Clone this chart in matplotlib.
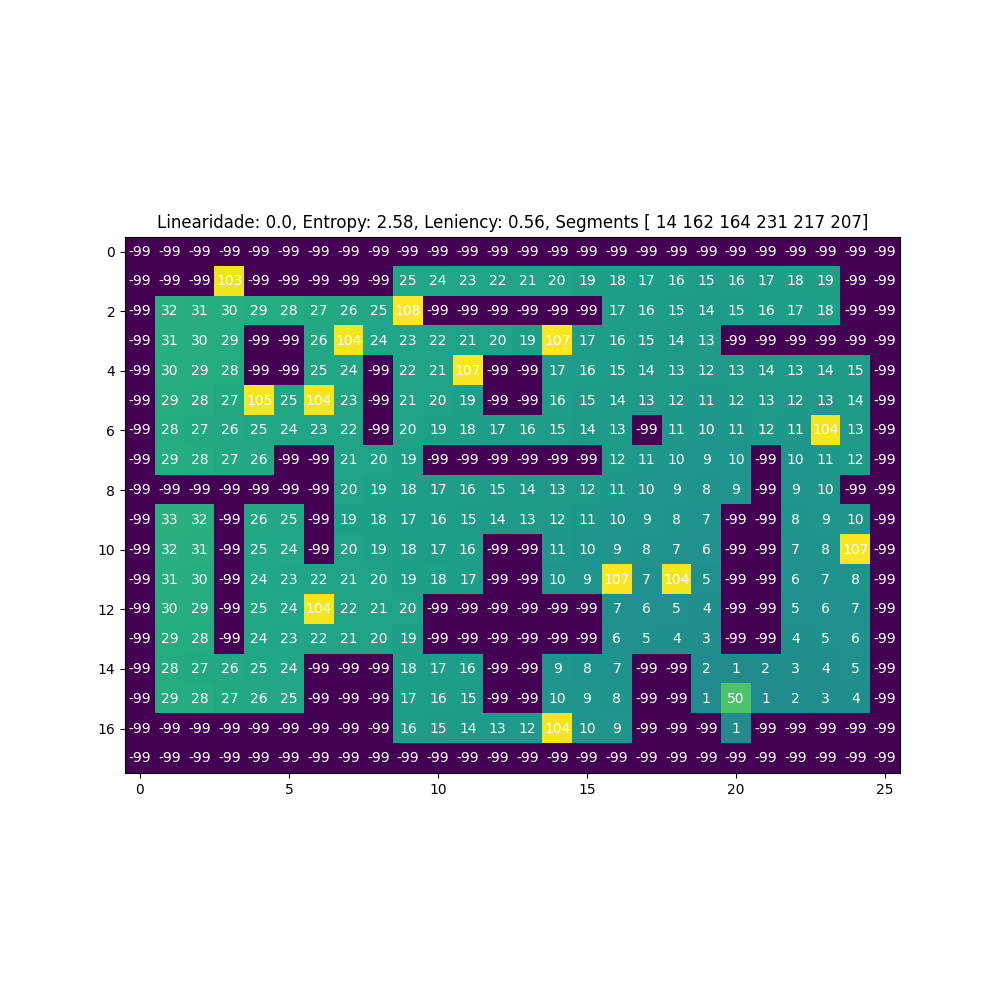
import numpy as np
import matplotlib
matplotlib.use("Agg")
import matplotlib.pyplot as plt

N = -99
row0 = [N]*26
row1 = [N, N, N, 103, N, N, N, N, N, 25, 24, 23, 22, 21, 20, 19, 18, 17, 16, 15, 16, 17, 18, 19, N, N]
row2 = [N, 32, 31, 30, 29, 28, 27, 26, 25, 108, N, N, N, N, N, N, 17, 16, 15, 14, 15, 16, 17, 18, N, N]
row3 = [N, 31, 30, 29, N, N, 26, 104, 24, 23, 22, 21, 20, 19, 107, 17, 16, 15, 14, 13, N, N, N, N, N, N]
row4 = [N, 30, 29, 28, N, N, 25, 24, N, 22, 21, 107, N, N, 17, 16, 15, 14, 13, 12, 13, 14, 13, 14, 15, N]
row5 = [N, 29, 28, 27, 105, 25, 104, 23, N, 21, 20, 19, N, N, 16, 15, 14, 13, 12, 11, 12, 13, 12, 13, 14, N]
row6 = [N, 28, 27, 26, 25, 24, 23, 22, N, 20, 19, 18, 17, 16, 15, 14, 13, N, 11, 10, 11, 12, 11, 104, 13, N]
row7 = [N, 29, 28, 27, 26, N, N, 21, 20, 19, N, N, N, N, N, N, 12, 11, 10, 9, 10, N, 10, 11, 12, N]
row8 = [N, N, N, N, N, N, N, 20, 19, 18, 17, 16, 15, 14, 13, 12, 11, 10, 9, 8, 9, N, 9, 10, N, N]
row9 = [N, 33, 32, N, 26, 25, N, 19, 18, 17, 16, 15, 14, 13, 12, 11, 10, 9, 8, 7, N, N, 8, 9, 10, N]
row10 = [N, 32, 31, N, 25, 24, N, 20, 19, 18, 17, 16, N, N, 11, 10, 9, 8, 7, 6, N, N, 7, 8, 107, N]
row11 = [N, 31, 30, N, 24, 23, 22, 21, 20, 19, 18, 17, N, N, 10, 9, 107, 7, 104, 5, N, N, 6, 7, 8, N]
row12 = [N, 30, 29, N, 25, 24, 104, 22, 21, 20, N, N, N, N, N, N, 7, 6, 5, 4, N, N, 5, 6, 7, N]
row13 = [N, 29, 28, N, 24, 23, 22, 21, 20, 19, N, N, N, N, N, N, 6, 5, 4, 3, N, N, 4, 5, 6, N]
row14 = [N, 28, 27, 26, 25, 24, N, N, N, 18, 17, 16, N, N, 9, 8, 7, N, N, 2, 1, 2, 3, 4, 5, N]
row15 = [N, 29, 28, 27, 26, 25, N, N, N, 17, 16, 15, N, N, 10, 9, 8, N, N, 1, 50, 1, 2, 3, 4, N]
row16 = [N, N, N, N, N, N, N, N, N, 16, 15, 14, 13, 12, 104, 10, 9, N, N, N, 1, N, N, N, N, N]
row17 = [N]*26

grid = np.array([row0, row1, row2, row3, row4, row5, row6, row7, row8, row9,
                 row10, row11, row12, row13, row14, row15, row16, row17])

title = "Linearidade: 0.0, Entropy: 2.58, Leniency: 0.56, Segments [ 14 162 164 231 217 207]"

fig, ax = plt.subplots(figsize=(10, 10), dpi=100)
ax.imshow(grid, cmap="viridis")
for i in range(grid.shape[0]):
    for j in range(grid.shape[1]):
        ax.text(j, i, str(grid[i, j]), ha="center", va="center", color="w", fontsize=10)
ax.set_title(title)
fig.savefig("out.png")
